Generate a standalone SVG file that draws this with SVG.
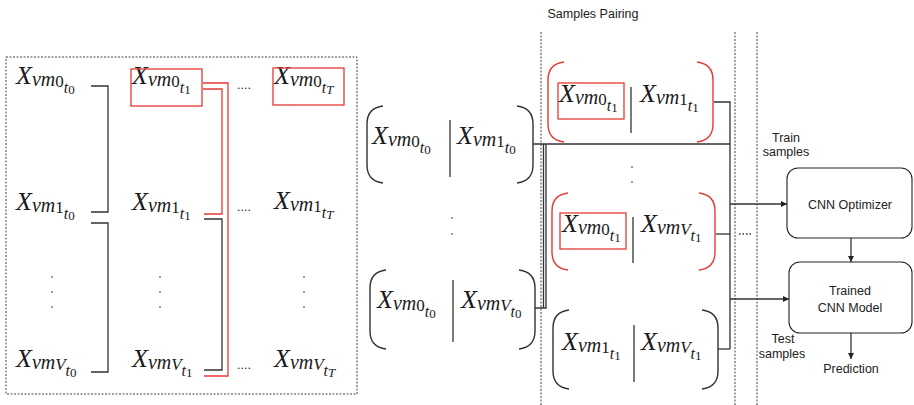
<svg xmlns="http://www.w3.org/2000/svg" width="914" height="405" viewBox="0 0 914 405">
<style>
.m{font-family:"Liberation Serif",serif;font-style:italic;font-size:26px;fill:#1a1a1a}
.s1{font-size:20px}
.s2{font-size:17px;font-style:normal}
.s2i{font-size:17px}
.s3{font-size:16px}
.s4{font-size:13px;font-style:normal}
.s4i{font-size:13px}
.lbl{font-family:"Liberation Sans",Arial,sans-serif;font-size:12.5px;fill:#222}
.ln{fill:none;stroke:#333;stroke-width:1.3}
.rd{fill:none;stroke:#e53935;stroke-width:1.3}
.par{fill:none;stroke:#333;stroke-width:1.4}
.rpar{fill:none;stroke:#e53935;stroke-width:1.4}
.dot{fill:#222}
.sep{fill:none;stroke:#444;stroke-width:1;stroke-dasharray:2,1.5}
.box{fill:#fff;stroke:#222;stroke-width:1.1}
.bar{stroke:#333;stroke-width:1.3}
</style>
<defs>
<marker id="ah" viewBox="0 0 8 8" refX="8" refY="4" markerWidth="6" markerHeight="6" orient="auto" markerUnits="userSpaceOnUse">
<path d="M0,0 L8,4 L0,8 z" fill="#222"/>
</marker>
</defs>

<rect class="sep" x="6" y="57" width="351" height="337"/>
<line class="sep" x1="541" y1="32" x2="541" y2="405"/>
<line class="sep" x1="735" y1="32" x2="735" y2="405"/>
<line class="sep" x1="757" y1="32" x2="757" y2="405"/>
<text class="lbl" x="593" y="18" text-anchor="middle">Samples Pairing</text>

<g id="grid">
<text class="m" x="16" y="84">X<tspan class="s1" dy="2">vm</tspan><tspan class="s2" dy="1">0</tspan><tspan class="s3" dy="6">t</tspan><tspan class="s4" dy="1">0</tspan></text>
<text class="m" x="16" y="210">X<tspan class="s1" dy="2">vm</tspan><tspan class="s2" dy="1">1</tspan><tspan class="s3" dy="6">t</tspan><tspan class="s4" dy="1">0</tspan></text>
<text class="m" x="16" y="367">X<tspan class="s1" dy="2">vm</tspan><tspan class="s2i" dy="1">V</tspan><tspan class="s3" dy="6">t</tspan><tspan class="s4" dy="1">0</tspan></text>
<text class="m" x="132" y="84">X<tspan class="s1" dy="2">vm</tspan><tspan class="s2" dy="1">0</tspan><tspan class="s3" dy="6">t</tspan><tspan class="s4" dy="1">1</tspan></text>
<text class="m" x="132" y="210">X<tspan class="s1" dy="2">vm</tspan><tspan class="s2" dy="1">1</tspan><tspan class="s3" dy="6">t</tspan><tspan class="s4" dy="1">1</tspan></text>
<text class="m" x="132" y="367">X<tspan class="s1" dy="2">vm</tspan><tspan class="s2i" dy="1">V</tspan><tspan class="s3" dy="6">t</tspan><tspan class="s4" dy="1">1</tspan></text>
<text class="m" x="274" y="84">X<tspan class="s1" dy="2">vm</tspan><tspan class="s2" dy="1">0</tspan><tspan class="s3" dy="6">t</tspan><tspan class="s4i" dy="1">T</tspan></text>
<text class="m" x="274" y="209">X<tspan class="s1" dy="2">vm</tspan><tspan class="s2" dy="1">1</tspan><tspan class="s3" dy="6">t</tspan><tspan class="s4i" dy="1">T</tspan></text>
<text class="m" x="274" y="367">X<tspan class="s1" dy="2">vm</tspan><tspan class="s2i" dy="1">V</tspan><tspan class="s3" dy="6">t</tspan><tspan class="s4i" dy="1">T</tspan></text>
<rect class="rd" x="131" y="69" width="71" height="37"/>
<rect class="rd" x="273" y="68" width="71" height="37"/>
<text class="lbl" x="237" y="89" font-size="12">....</text>
<text class="lbl" x="237" y="211" font-size="12">....</text>
<text class="lbl" x="237" y="369" font-size="12">....</text>
<circle class="dot" cx="52" cy="277" r="0.8"/><circle class="dot" cx="52" cy="292" r="0.8"/><circle class="dot" cx="52" cy="307" r="0.8"/>
<circle class="dot" cx="160" cy="277" r="0.8"/><circle class="dot" cx="160" cy="292" r="0.8"/><circle class="dot" cx="160" cy="307" r="0.8"/>
<circle class="dot" cx="304" cy="277" r="0.8"/><circle class="dot" cx="304" cy="292" r="0.8"/><circle class="dot" cx="304" cy="307" r="0.8"/>
</g>

<g id="pairA">
<path class="par" d="M383,106 Q367,108 367,124 V165 Q367,181 383,183"/>
<path class="par" d="M517,106 Q533,108 533,124 V165 Q533,181 517,183"/>
<line class="bar" x1="450" y1="120" x2="450" y2="177"/>
<text class="m" x="372" y="144">X<tspan class="s1" dy="2">vm</tspan><tspan class="s2" dy="1">0</tspan><tspan class="s3" dy="6">t</tspan><tspan class="s4" dy="1">0</tspan></text>
<text class="m" x="457" y="144">X<tspan class="s1" dy="2">vm</tspan><tspan class="s2" dy="1">1</tspan><tspan class="s3" dy="6">t</tspan><tspan class="s4" dy="1">0</tspan></text>
</g>
<g id="dotsAB">
<circle class="dot" cx="452" cy="218" r="0.8"/><circle class="dot" cx="452" cy="234" r="0.8"/>
</g>
<g id="pairB">
<path class="par" d="M386,270 Q370,272 370,288 V331 Q370,347 386,349"/>
<path class="par" d="M519,270 Q535,272 535,288 V331 Q535,347 519,349"/>
<line class="bar" x1="453" y1="280" x2="453" y2="342"/>
<text class="m" x="377" y="308">X<tspan class="s1" dy="2">vm</tspan><tspan class="s2" dy="1">0</tspan><tspan class="s3" dy="6">t</tspan><tspan class="s4" dy="1">0</tspan></text>
<text class="m" x="461" y="308">X<tspan class="s1" dy="2">vm</tspan><tspan class="s2i" dy="1">V</tspan><tspan class="s3" dy="6">t</tspan><tspan class="s4" dy="1">0</tspan></text>
</g>

<g id="pairC">
<path class="rpar" d="M564,62 Q548,64 548,80 V124 Q548,140 564,142"/>
<path class="rpar" d="M697,62 Q713,64 713,80 V124 Q713,140 697,142"/>
<line class="bar" x1="631" y1="87" x2="631" y2="133"/>
<rect class="rd" x="558" y="83" width="66" height="36"/>
<text class="m" x="559" y="102">X<tspan class="s1" dy="2">vm</tspan><tspan class="s2" dy="1">0</tspan><tspan class="s3" dy="6">t</tspan><tspan class="s4" dy="1">1</tspan></text>
<text class="m" x="640" y="102">X<tspan class="s1" dy="2">vm</tspan><tspan class="s2" dy="1">1</tspan><tspan class="s3" dy="6">t</tspan><tspan class="s4" dy="1">1</tspan></text>
</g>
<g id="dotsCD">
<circle class="dot" cx="632" cy="167" r="0.8"/><circle class="dot" cx="632" cy="182" r="0.8"/>
</g>
<g id="pairD">
<path class="rpar" d="M568,193 Q552,195 552,211 V252 Q552,268 568,270"/>
<path class="rpar" d="M699,193 Q715,195 715,211 V252 Q715,268 699,270"/>
<line class="bar" x1="633" y1="217" x2="633" y2="263"/>
<rect class="rd" x="560" y="213" width="66" height="36"/>
<text class="m" x="562" y="232">X<tspan class="s1" dy="2">vm</tspan><tspan class="s2" dy="1">0</tspan><tspan class="s3" dy="6">t</tspan><tspan class="s4" dy="1">1</tspan></text>
<text class="m" x="641" y="232">X<tspan class="s1" dy="2">vm</tspan><tspan class="s2i" dy="1">V</tspan><tspan class="s3" dy="6">t</tspan><tspan class="s4" dy="1">1</tspan></text>
</g>
<g id="pairE">
<path class="par" d="M569,310 Q553,312 553,328 V371 Q553,387 569,389"/>
<path class="par" d="M702,310 Q718,312 718,328 V371 Q718,387 702,389"/>
<line class="bar" x1="634" y1="325" x2="634" y2="382"/>
<text class="m" x="562" y="350">X<tspan class="s1" dy="2">vm</tspan><tspan class="s2" dy="1">1</tspan><tspan class="s3" dy="6">t</tspan><tspan class="s4" dy="1">1</tspan></text>
<text class="m" x="641" y="350">X<tspan class="s1" dy="2">vm</tspan><tspan class="s2i" dy="1">V</tspan><tspan class="s3" dy="6">t</tspan><tspan class="s4" dy="1">1</tspan></text>
</g>

<g id="optimizer">
<rect class="box" x="787" y="168" width="125" height="70" rx="11"/>
<text class="lbl" x="850" y="209" text-anchor="middle">CNN Optimizer</text>
</g>
<g id="trained">
<rect class="box" x="789" y="262" width="123" height="71" rx="11"/>
<text class="lbl" x="850" y="295" text-anchor="middle">Trained</text>
<text class="lbl" x="850" y="312" text-anchor="middle">CNN Model</text>
</g>
<g id="prediction">
<text class="lbl" x="851" y="373" text-anchor="middle">Prediction</text>
</g>
<g id="labels">
<text class="lbl" x="786" y="142" text-anchor="middle">Train</text>
<text class="lbl" x="786" y="156" text-anchor="middle">samples</text>
<text class="lbl" x="783" y="343" text-anchor="middle">Test</text>
<text class="lbl" x="782" y="358" text-anchor="middle">samples</text>
</g>

<g id="connectors">
<path class="ln" d="M91,86 H108 V212 H91"/>
<path class="ln" d="M91,223 H108 V372 H91"/>
<path class="rd" d="M203,83 H228 V376 H204"/>
<path class="rd" d="M203,89 H222 V214 H204"/>
<path class="ln" d="M204,219 H222 V370 H204"/>
<path class="ln" d="M533,144 H730"/>
<path class="ln" d="M535,308 H546 V144"/>
<path class="ln" d="M543.5,144 V308"/>
<path class="ln" d="M714,102 H730 V349"/>
<path class="ln" d="M716,234 H730"/>
<path class="ln" d="M718,349 H730"/>
<path class="ln" d="M730,204 H787" marker-end="url(#ah)"/>
<path class="ln" d="M730,299 H789" marker-end="url(#ah)"/>
<path class="ln" d="M739,234 H753" stroke-dasharray="1.5,2" stroke-width="1"/>
<path class="ln" d="M851,238 V262" marker-end="url(#ah)"/>
<path class="ln" d="M851,333 V359" marker-end="url(#ah)"/>
</g>
</svg>
